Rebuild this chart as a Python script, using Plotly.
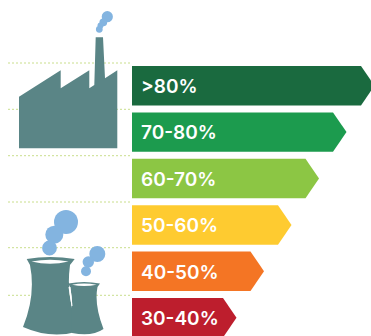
import plotly.graph_objects as go

# Efficiency bands, longest arrow first
labels = [">80%", "70-80%", "60-70%", "50-60%", "40-50%", "30-40%"]
lengths = [242.5, 214.5, 187, 159.5, 132, 104.5]
colors = ["#1a6a3f", "#1c9b4e", "#8cc644", "#fecb30", "#f47524", "#bd1e2d"]

W, H = 371, 336
TIP = 13.5
HALF = 0.425
TEXT_DROP = 0.055
TEAL = "#5a8586"
BLUE = "#83b4e0"
DOT = "#c9de8c"


def px(x, y):
    return x / W, 1 - y / H


def path(cmds):
    # cmds: list of (letter, x1, y1, ...) in screen pixels
    out = []
    for c in cmds:
        if c[0] == "Z":
            out.append("Z")
            continue
        nums = []
        for i in range(1, len(c), 2):
            a, b = px(c[i], c[i + 1])
            nums.append(f"{a:.5f},{b:.5f}")
        out.append(c[0] + " ".join(nums))
    return " ".join(out)


def blob(color, cmds, layer="below"):
    return dict(type="path", xref="paper", yref="paper", path=path(cmds),
                fillcolor=color, line=dict(width=0), layer=layer)


def circle(cx, cy, r):
    x0, y1 = px(cx - r, cy - r)
    x1, y0 = px(cx + r, cy + r)
    return dict(type="circle", xref="paper", yref="paper", x0=x0, x1=x1, y0=y0, y1=y1,
                fillcolor=BLUE, line=dict(width=0), layer="below")


fig = go.Figure()

# One arrow per band, the polygon follows the band's length
for i, (name, v, c) in enumerate(zip(labels, lengths, colors)):
    fig.add_trace(go.Scatter(
        x=[0, v - TIP, v, v - TIP, 0],
        y=[i - HALF, i - HALF, i, i + HALF, i + HALF],
        fill="toself", fillcolor=c, mode="lines", line=dict(width=0),
        hoverinfo="skip", showlegend=False))

fig.add_trace(go.Scatter(
    x=[9] * len(labels), y=[i + TEXT_DROP for i in range(len(labels))], text=labels,
    mode="text", textposition="middle right",
    textfont=dict(family="Inter", size=19, color="white", weight=600),
    hoverinfo="skip", showlegend=False))

shapes = []

# Dotted guide lines behind the icons
for gy in [63, 109.3, 155.7, 202, 247.7, 295.3]:
    a, b = px(8, gy)
    c, d = px(132, gy)
    shapes.append(dict(type="line", xref="paper", yref="paper", x0=a, x1=c, y0=b, y1=d,
                       line=dict(color=DOT, width=1, dash="2px,2px"), layer="below"))

# Factory silhouette
shapes.append(blob(TEAL, [
    ("M", 19, 96.7), ("L", 60.7, 70.3), ("L", 60.7, 88.3), ("L", 89.3, 70.3), ("L", 89.3, 88.3),
    ("L", 94.3, 85), ("L", 95.7, 37.3), ("L", 103, 37.3), ("L", 105, 78.3), ("L", 117.3, 70.3),
    ("L", 117.3, 148.3), ("L", 19, 148.3), ("Z",)]))
for cx, cy, r in [(107.3, 16.7, 5.6), (103.3, 22.3, 3.9), (100.5, 25.5, 3), (99.3, 29.3, 3.4)]:
    shapes.append(circle(cx, cy, r))

# Large cooling tower
shapes.append(blob(TEAL, [
    ("M", 26.7, 259), ("Q", 50, 255, 74.7, 259), ("L", 70, 265),
    ("Q", 67, 288, 72, 308), ("L", 76, 332),
    ("Q", 50, 339, 23, 327),
    ("Q", 36, 295, 30, 265), ("Z",)]))
shapes.append(blob("#ffffff", [
    ("M", 31.5, 261.6), ("Q", 50, 258, 68.5, 261.6), ("Q", 50, 266, 31.5, 261.6), ("Z",)]))

# Small cooling tower
shapes.append(blob(TEAL, [
    ("M", 68.3, 283.5), ("Q", 84, 280.5, 100, 283.5), ("L", 97.5, 287),
    ("Q", 94, 305, 103.5, 329), ("Q", 92, 337, 72, 333), ("L", 72, 305),
    ("Q", 72, 295, 70, 287), ("Z",)]))
shapes.append(blob("#ffffff", [
    ("M", 72, 284.8), ("Q", 84, 282.3, 96.5, 284.8), ("Q", 84, 287.3, 72, 284.8), ("Z",)]))
shapes.append(blob("#ffffff", [
    ("M", 68.5, 287), ("L", 70.5, 287), ("L", 72.5, 306), ("L", 71.5, 306), ("Z",)]))

# Steam clouds
for cx, cy, r in [(66, 222, 12), (54.3, 234.7, 9), (49.5, 248, 7.4),
                  (97.3, 254, 8), (88.3, 262, 5.7), (86, 271.3, 5)]:
    shapes.append(circle(cx, cy, r))

fig.update_layout(
    width=W, height=H, margin=dict(l=0, r=0, t=0, b=0, pad=0),
    paper_bgcolor="white", plot_bgcolor="rgba(0,0,0,0)", showlegend=False, shapes=shapes,
    xaxis=dict(range=[-132, 239], visible=False, fixedrange=True),
    yaxis=dict(range=[5.394, -1.847], visible=False, fixedrange=True),
)

fig.write_html("out.html", config=dict(displayModeBar=False))
